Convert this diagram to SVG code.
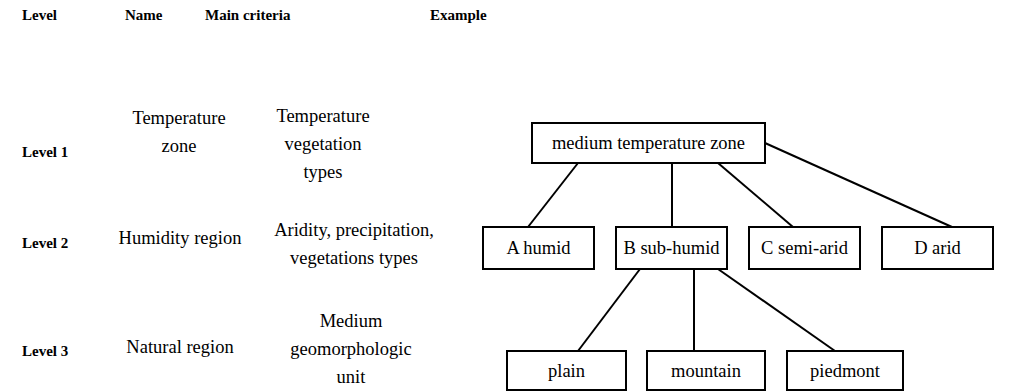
<svg xmlns="http://www.w3.org/2000/svg" width="1023" height="392" viewBox="0 0 1023 392">
<style>
.h{font-weight:bold;font-size:15px;fill:#000}
.t{font-size:18.5px;fill:#000}
.c{text-anchor:middle}
.box{fill:#fff;stroke:#000;stroke-width:2}
.ln{stroke:#000;stroke-width:2;fill:none}
</style>
<rect width="1023" height="392" fill="#fff"/>
<g font-family="Liberation Serif, DejaVu Serif, serif">
<g id="headers">
<text class="h" x="22" y="20">Level</text>
<text class="h" x="125" y="20">Name</text>
<text class="h" x="205" y="20">Main criteria</text>
<text class="h" x="430" y="20">Example</text>
</g>
<g id="levels">
<text class="h" x="22" y="157">Level 1</text>
<text class="h" x="22" y="248">Level 2</text>
<text class="h" x="22" y="356">Level 3</text>
</g>
<g id="names">
<text class="t c" x="179" y="124">Temperature</text>
<text class="t c" x="179" y="152">zone</text>
<text class="t c" x="180" y="244">Humidity region</text>
<text class="t c" x="180" y="353">Natural region</text>
</g>
<g id="criteria">
<text class="t c" x="323" y="122">Temperature</text>
<text class="t c" x="323" y="150">vegetation</text>
<text class="t c" x="323" y="178">types</text>
<text class="t c" x="354" y="236">Aridity, precipitation,</text>
<text class="t c" x="354" y="264">vegetations types</text>
<text class="t c" x="351" y="327">Medium</text>
<text class="t c" x="351" y="355">geomorphologic</text>
<text class="t c" x="351" y="383">unit</text>
</g>
<g id="connectors">
<line class="ln" x1="578" y1="163" x2="528" y2="227"/>
<line class="ln" x1="672" y1="163" x2="672" y2="227"/>
<line class="ln" x1="718" y1="163" x2="793" y2="227"/>
<line class="ln" x1="765" y1="143" x2="952" y2="227"/>
<line class="ln" x1="640" y1="269" x2="578" y2="351"/>
<line class="ln" x1="694" y1="269" x2="694" y2="351"/>
<line class="ln" x1="718" y1="269" x2="835" y2="351"/>
</g>
<g id="n-top"><rect class="box" x="532" y="123" width="233" height="40"/><text class="t c" x="648.5" y="149">medium temperature zone</text></g>
<g id="n-a"><rect class="box" x="483" y="227" width="111" height="42"/><text class="t c" x="538.5" y="254">A humid</text></g>
<g id="n-b"><rect class="box" x="616" y="227" width="111" height="42"/><text class="t c" x="671.5" y="254">B sub-humid</text></g>
<g id="n-c"><rect class="box" x="749" y="227" width="111" height="42"/><text class="t c" x="804.5" y="254">C semi-arid</text></g>
<g id="n-d"><rect class="box" x="882" y="227" width="111" height="42"/><text class="t c" x="937.5" y="254">D arid</text></g>
<g id="n-plain"><rect class="box" x="507" y="351" width="119" height="39"/><text class="t c" x="566.5" y="377">plain</text></g>
<g id="n-mountain"><rect class="box" x="647" y="351" width="118" height="39"/><text class="t c" x="706" y="377">mountain</text></g>
<g id="n-piedmont"><rect class="box" x="787" y="351" width="116" height="39"/><text class="t c" x="845" y="377">piedmont</text></g>
</g>
</svg>
